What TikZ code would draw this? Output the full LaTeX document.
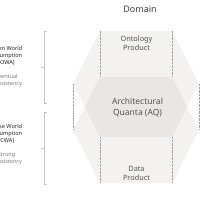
\documentclass[tikz,border=0pt]{standalone}
\usepackage{fontspec}
\setmainfont{Noto Sans}
\usetikzlibrary{positioning}
\definecolor{Shell}{HTML}{F3F2F0}
\definecolor{Core}{HTML}{E9E6E3}
\definecolor{Dots}{HTML}{A2A2A2}
\definecolor{Brace}{HTML}{C6C6C6}
\definecolor{Ink}{HTML}{555555}
\definecolor{Soft}{HTML}{7A7A7A}

\begin{document}
\begin{tikzpicture}[x=1pt,y=-1pt,
 lbl/.style={align=center,inner sep=0pt,text=Ink,font=\fontsize{7.3}{9}\selectfont},
 claim/.style={align=center,inner sep=0pt,text=black!85,font=\fontsize{5.6}{7}\selectfont\bfseries},
 note/.style={align=center,inner sep=0pt,text=Soft,font=\fontsize{5.5}{7}\selectfont}]
\clip (0,0) rectangle (200,200);
% corners of the upper and lower hexagon
\foreach \n/\dy in {up/0,dn/46}{
 \coordinate (\n1) at (100,31+\dy);
 \coordinate (\n2) at (172,31+\dy);
 \coordinate (\n3) at (199,84+\dy);
 \coordinate (\n4) at (172,137+\dy);
 \coordinate (\n5) at (100,137+\dy);
 \coordinate (\n6) at (73,84+\dy);
 \fill[Shell] (\n1)--(\n2)--(\n3)--(\n4)--(\n5)--(\n6)--cycle;
}
\coordinate (aql) at (84.7,107);
\coordinate (aqr) at (187.3,107);
\fill[Core] (dn1)--(dn2)--(aqr)--(up4)--(up5)--(aql)--cycle;
\foreach \k in {1,...,6}
 \draw[Dots,line width=0.6pt,dash pattern=on 0.7pt off 0.7pt] (up\k)--(dn\k);

\node[inner sep=0pt,text=black!75,font=\fontsize{9}{11}\selectfont] (domain) at (140,9) {Domain};
\node[lbl] (onto) at (136.5,43.5) {Ontology\\Product};
\node[lbl,font=\fontsize{8.5}{11}\selectfont] (aq) at (137.5,107.5) {Architectural\\Quanta (AQ)};
\node[lbl] (data) at (136.5,173.5) {Data\\Product};

% brackets on the left
\foreach \t/\b in {31/103,112/184}
 \draw[Brace,line width=0.8pt] (47,\t) -- (44,\t) -- (44,\b) -- (47,\b)
  (44,{(\t+\b)/2}) -- (41,{(\t+\b)/2});
\node[claim] (owa) at (6.5,56) {Open World\\Assumption\\(OWA)};
\node[note] (eventual) at (6.5,80.5) {Eventual\\Consistency};
\node[claim] (cwa) at (6.5,134) {Close World\\Assumption\\(CWA)};
\node[note] (strong) at (6.5,158.5) {Strong\\Consistency};
\end{tikzpicture}
\end{document}
